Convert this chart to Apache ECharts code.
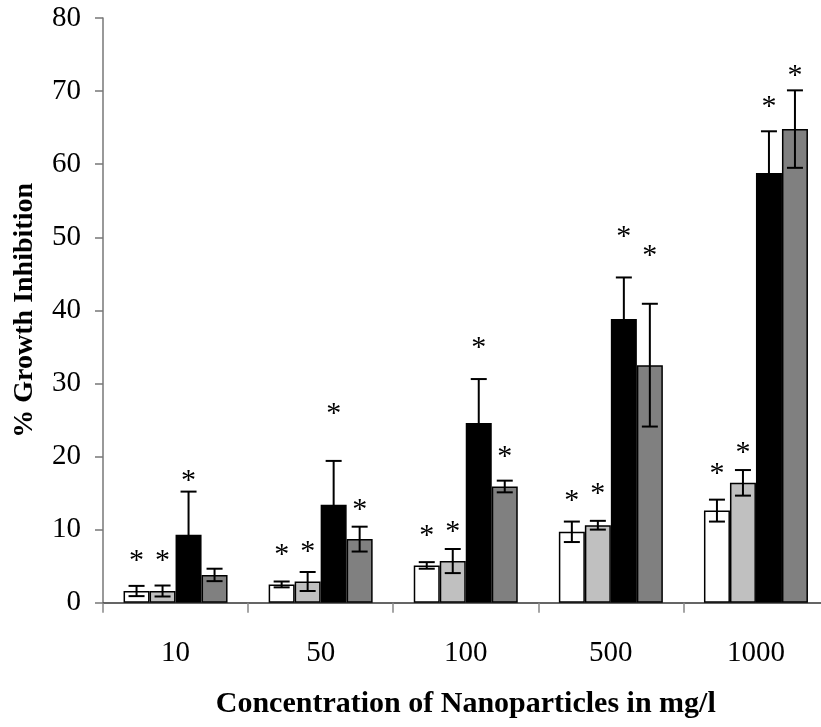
<!DOCTYPE html>
<html>
<head>
<meta charset="utf-8">
<script src="https://cdn.jsdelivr.net/npm/echarts@6/dist/echarts.min.js"></script>
<style>
  html, body { margin: 0; padding: 0; background: #fff; }
  #chart { width: 821px; height: 727px; }
</style>
</head>
<body>
<div id="chart"></div>
<script>
// concentrations (mg/l)
const categories = ['10', '50', '100', '500', '1000'];

// % growth inhibition, mean and error for each of the four bars
const whiteMean = [1.6, 2.5, 5.1, 9.7, 12.6];
const whiteErr = [0.7, 0.4, 0.45, 1.4, 1.5];
const lightMean = [1.6, 2.9, 5.7, 10.6, 16.4];
const lightErr = [0.75, 1.3, 1.65, 0.6, 1.75];
const blackMean = [9.3, 13.4, 24.6, 38.8, 58.8];
const blackErr = [5.9, 6.0, 6.0, 5.7, 5.7];
const darkMean = [3.8, 8.7, 15.9, 32.5, 64.8];
const darkErr = [0.85, 1.7, 0.8, 8.4, 5.3];

// height of the significance asterisk above each bar (null = none)
const whiteStar = [6.3, 7.0, 9.7, 14.5, 18.1];
const lightStar = [6.3, 7.5, 10.2, 15.4, 21.0];
const blackStar = [17.2, 26.4, 35.4, 50.5, 68.3];
const darkStar = [null, 13.2, 20.4, 48.0, 72.6];

const yTicks = [0, 10, 20, 30, 40, 50, 60, 70, 80];

const FONT = '"Liberation Serif", "Times New Roman", serif';
const BAR_W = 26;

const groups = [
  { mean: whiteMean, err: whiteErr, star: whiteStar, color: '#ffffff' },
  { mean: lightMean, err: lightErr, star: lightStar, color: '#c0c0c0' },
  { mean: blackMean, err: blackErr, star: blackStar, color: '#000000' },
  { mean: darkMean, err: darkErr, star: darkStar, color: '#808080' },
];

const barSeries = groups.map((g) => ({
  type: 'bar',
  data: g.mean,
  barWidth: BAR_W,
  barGap: '0%',
  itemStyle: { color: g.color, borderColor: '#000', borderWidth: 1.5 },
  silent: true,
}));

const errorSeries = groups.map((g, s) => ({
  type: 'custom',
  silent: true,
  z: 5,
  encode: { x: 0, y: 1 },
  data: g.mean.map((m, i) => [i, m, g.err[i]]),
  renderItem: (params, api) => {
    const off = (s - 1.5) * BAR_W;
    const i = api.value(0), m = api.value(1), e = api.value(2);
    const x = api.coord([i, m])[0] + off;
    const yTop = api.coord([i, m + e])[1];
    const yBot = api.coord([i, m - e])[1];
    const cap = 8;
    const st = { stroke: '#000', lineWidth: 2 };
    return {
      type: 'group',
      children: [
        { type: 'line', shape: { x1: x, y1: yTop, x2: x, y2: yBot }, style: st },
        { type: 'line', shape: { x1: x - cap, y1: yTop, x2: x + cap, y2: yTop }, style: st },
        { type: 'line', shape: { x1: x - cap, y1: yBot, x2: x + cap, y2: yBot }, style: st },
      ],
    };
  },
}));

const starSeries = groups.map((g, s) => ({
  type: 'custom',
  silent: true,
  z: 6,
  encode: { x: 0, y: 1 },
  data: g.star.map((h, i) => [i, h]).filter((d) => d[1] != null),
  renderItem: (params, api) => {
    const off = (s - 1.5) * BAR_W;
    const p = api.coord([api.value(0), api.value(1)]);
    return {
      type: 'text',
      style: {
        text: '*',
        x: p[0] + off,
        y: p[1] + 4,
        font: '30px ' + FONT,
        fill: '#000',
        align: 'center',
        verticalAlign: 'middle',
      },
    };
  },
}));

const chart = echarts.init(document.getElementById('chart'));
chart.setOption({
  animation: false,
  backgroundColor: '#fff',
  grid: {
    left: 103, right: -7.5, top: 18, bottom: 124.3,
    containLabel: false, outerBoundsMode: 'none',
  },
  xAxis: {
    type: 'category',
    data: categories,
    name: 'Concentration of Nanoparticles in mg/l',
    nameLocation: 'middle',
    nameGap: 87,
    nameTextStyle: { fontFamily: FONT, fontWeight: 'bold', fontSize: 30, color: '#000' },
    axisLine: { lineStyle: { color: '#333', width: 1.5 } },
    axisTick: { show: true, length: 10, lineStyle: { color: '#888', width: 1.5 } },
    axisLabel: { fontFamily: FONT, fontSize: 29, color: '#000', margin: 36 },
  },
  yAxis: {
    type: 'value',
    min: yTicks[0],
    max: yTicks[yTicks.length - 1],
    interval: 10,
    name: '% Growth Inhibition',
    nameLocation: 'middle',
    nameRotate: 90,
    nameGap: 64,
    nameTextStyle: { fontFamily: FONT, fontWeight: 'bold', fontSize: 28, color: '#000' },
    axisLine: { show: true, lineStyle: { color: '#777', width: 1.5 } },
    axisTick: { show: true, length: 8, lineStyle: { color: '#777', width: 1.5 } },
    splitLine: { show: false },
    axisLabel: { fontFamily: FONT, fontSize: 29, color: '#000', margin: 22 },
  },
  series: [...barSeries, ...errorSeries, ...starSeries],
});
</script>
</body>
</html>
